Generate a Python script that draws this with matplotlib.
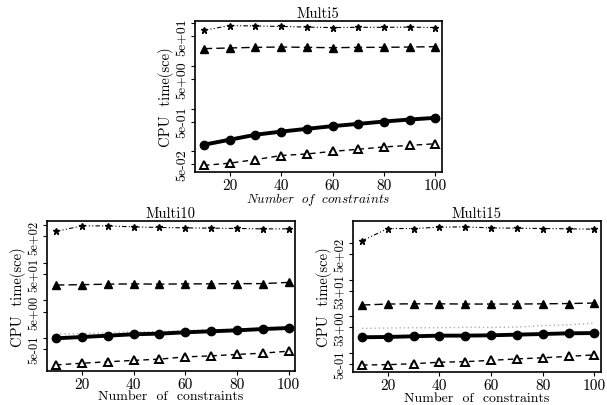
import matplotlib
matplotlib.use("Agg")
import matplotlib.pyplot as plt
from matplotlib.ticker import FixedLocator, NullFormatter
import numpy as np

plt.rcParams['font.family'] = ['cmr10', 'DejaVu Serif']
plt.rcParams['mathtext.fontset'] = 'cm'
plt.rcParams['axes.unicode_minus'] = False

constraints = [10, 20, 30, 40, 50, 60, 70, 80, 90, 100]

# Multi5
m5_star = [68, 88, 86, 84, 81, 79, 80, 80, 81, 79]
m5_tri_up = [25.4, 26.3, 27.2, 27.7, 27.2, 26.7, 27.2, 27.2, 27.7, 28.2]
m5_circle = [0.143, 0.187, 0.245, 0.29, 0.337, 0.39, 0.44, 0.5, 0.557, 0.61]
m5_gray = [0.155, 0.2, 0.255, 0.3, 0.345, 0.4, 0.45, 0.51, 0.565, 0.62]
m5_tri_low = [0.047, 0.053, 0.064, 0.080, 0.087, 0.100, 0.112, 0.127, 0.138, 0.151]

# Multi10
m10_star = [680, 957, 957, 900, 867, 847, 832, 817, 797, 797]
m10_tri_up = [25.4, 26.0, 26.8, 27.3, 26.8, 27.3, 27.3, 27.7, 27.7, 29.9]
m10_circle = [0.97, 1.05, 1.14, 1.24, 1.29, 1.40, 1.49, 1.58, 1.71, 1.82]
m10_gray = [1.25, 1.3, 1.36, 1.43, 1.47, 1.56, 1.63, 1.70, 1.80, 1.90]
m10_tri_low = [0.19, 0.21, 0.23, 0.25, 0.27, 0.31, 0.33, 0.36, 0.39, 0.44]

# Multi15
m15_star = [1150, 2500, 2500, 2720, 2770, 2600, 2550, 2500, 2450, 2400]
m15_tri_up = [20.4, 21.7, 22.0, 22.0, 21.7, 21.7, 21.7, 22.0, 22.4, 23.1]
m15_circle = [2.69, 2.74, 2.86, 2.98, 2.98, 3.04, 3.17, 3.30, 3.45, 3.5]
m15_gray = [4.7, 4.8, 4.9, 4.9, 5.0, 5.0, 5.1, 5.6, 5.9, 6.5]
m15_tri_low = [0.47, 0.48, 0.51, 0.56, 0.58, 0.63, 0.69, 0.74, 0.81, 0.89]

titles = ["Multi5", "Multi10", "Multi15"]
ytick_vals = [
    [5e-2, 5e-1, 5e0, 5e1],
    [5e-1, 5e0, 5e1, 5e2],
    [5e-1, 5e0, 5e1, 5e2],
]
ytick_labels = [
    ["5e-02", "5e-01", "5e+00", "5e+01"],
    ["5e-01", "5e+00", "5e+01", "5e+02"],
    ["5e-01", "53+00", "53+01", "5e+02"],
]
yminor_vals = [
    [1e-1, 1e0, 1e1, 1e2],
    [1e0, 1e1, 1e2, 1e3],
    [1e0, 1e1, 1e2, 1e3],
]
ylims = [(0.033, 113), (0.133, 1300), (0.297, 4040)]
xticks = [20, 40, 60, 80, 100]

data = [
    (m5_star, m5_tri_up, m5_circle, m5_gray, m5_tri_low),
    (m10_star, m10_tri_up, m10_circle, m10_gray, m10_tri_low),
    (m15_star, m15_tri_up, m15_circle, m15_gray, m15_tri_low),
]

fig = plt.figure(figsize=(6.07, 4.06), dpi=100)
rects = [
    [0.321, 0.574, 0.407, 0.372],
    [0.0774, 0.0845, 0.4086, 0.369],
    [0.5815, 0.0805, 0.4085, 0.373],
]
xlabels = [r"$\mathit{Number\ \ of\ \ constraints}$", "Number  of  constraints", "Number  of  constraints"]
xlabel_sizes = [9.5, 10, 10]
ytick_sizes = [10, 9, 9]

for i in range(3):
    ax = fig.add_axes(rects[i])
    star, tri_up, circ, gray, tri_low = data[i]
    ax.plot(constraints, gray, linestyle=(0, (1, 2)), color='#b0b0b0', lw=1.0, zorder=2)
    ax.plot(constraints, star, linestyle=(0, (4, 2, 1, 2, 1, 2)), color='black', lw=0.8,
            marker='*', markersize=4.5, zorder=3)
    ax.plot(constraints, tri_up, linestyle=(0, (6, 3)), color='black', lw=1.0,
            marker='^', markersize=5.5, zorder=3)
    ax.plot(constraints, circ, linestyle='-', color='black', lw=2.8,
            marker='o', markersize=6, zorder=4)
    ax.plot(constraints, tri_low, linestyle=(0, (4, 3)), color='black', lw=1.0,
            marker='^', markersize=5.5, markerfacecolor='white', markeredgewidth=1.4, zorder=3)
    ax.set_yscale('log')
    ax.set_ylim(*ylims[i])
    ax.set_xlim(6.5, 102.5)
    ax.yaxis.set_major_locator(FixedLocator(ytick_vals[i]))
    ax.set_yticklabels(ytick_labels[i], rotation=90, va='center', fontsize=ytick_sizes[i])
    ax.yaxis.set_minor_locator(FixedLocator(yminor_vals[i]))
    ax.yaxis.set_minor_formatter(NullFormatter())
    ax.set_xticks(xticks)
    ax.set_xticklabels([str(v) for v in xticks], fontsize=11)
    ax.tick_params(axis='both', which='both', direction='out', length=3, width=0.8, pad=1.5)
    for s in ax.spines.values():
        s.set_linewidth(1.2)
    ax.set_title(titles[i], fontsize=10.5, pad=3)
    ax.set_xlabel(xlabels[i], fontsize=xlabel_sizes[i], labelpad=-0.5)
    ax.set_ylabel("CPU  time(sce)", fontsize=10.5, labelpad=2)

fig.savefig("out.png", dpi=100)
